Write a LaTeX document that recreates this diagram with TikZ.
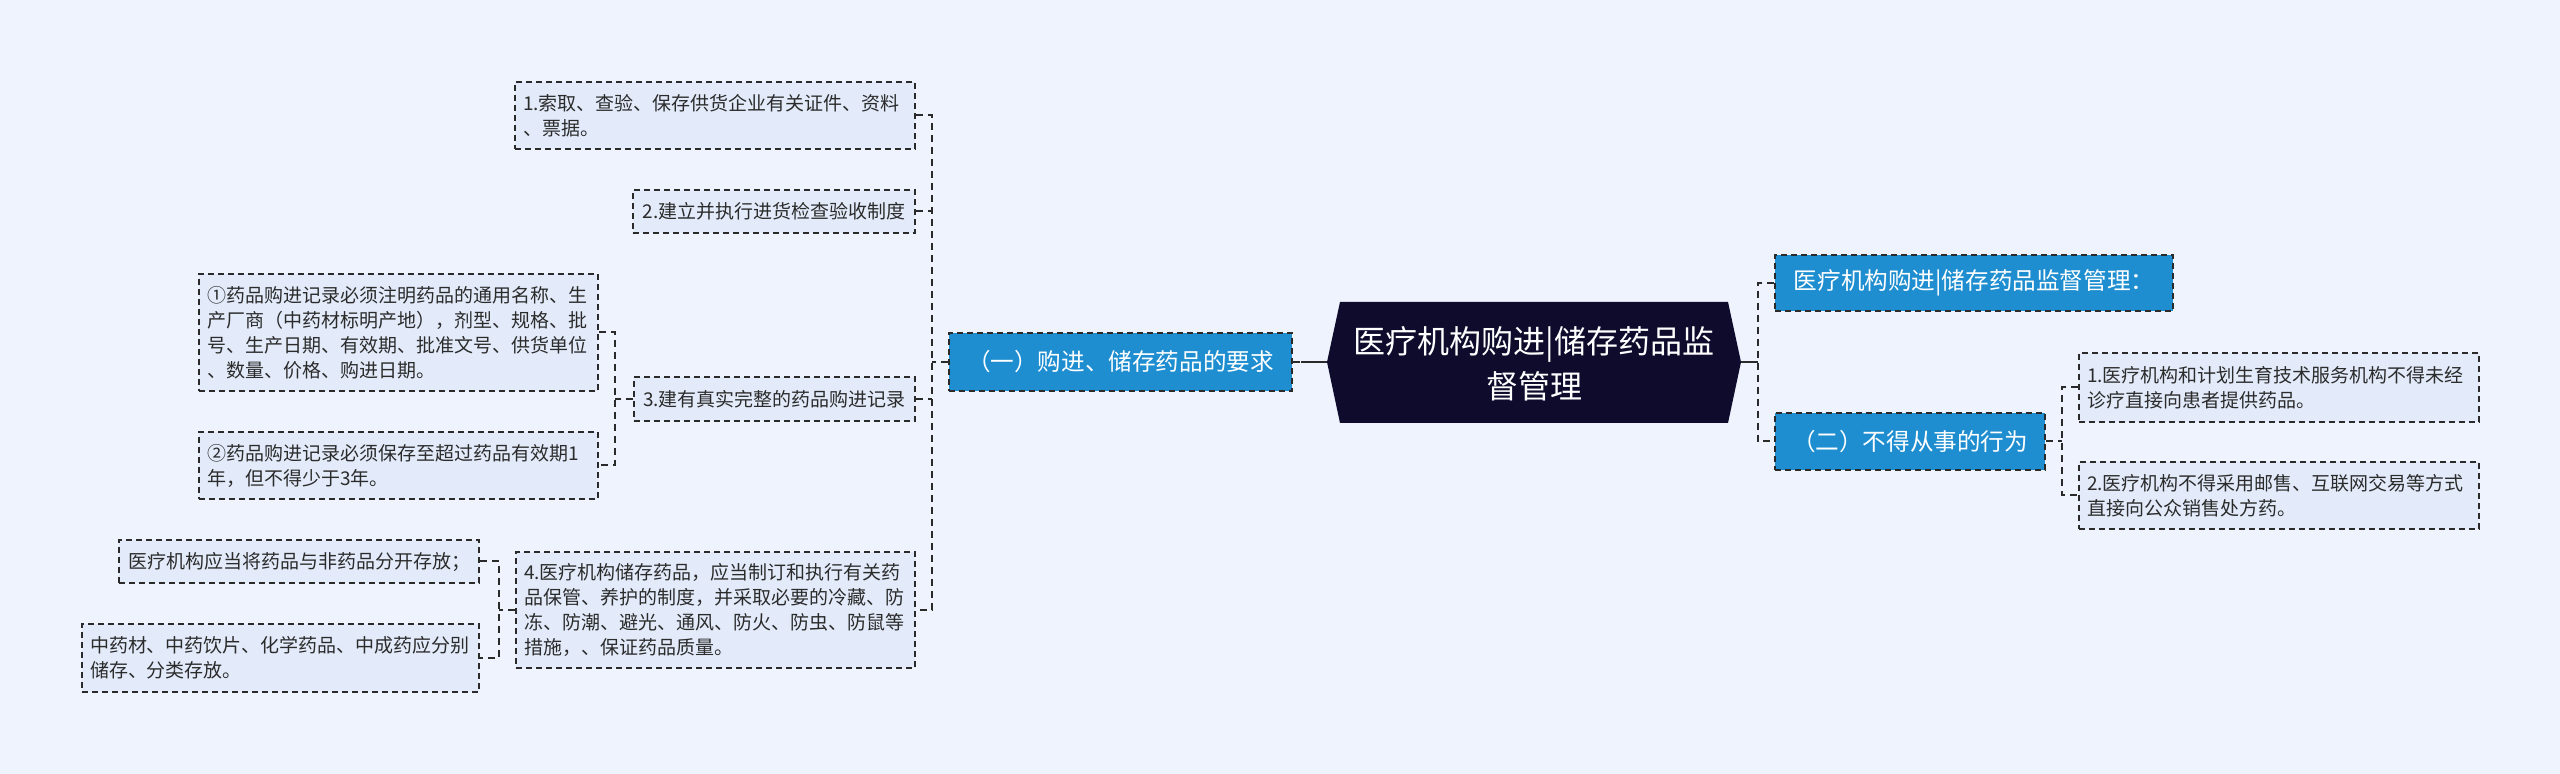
\documentclass[tikz,border=0pt]{standalone}
\usepackage{fontspec}
\setmainfont{Noto Sans CJK SC}
\definecolor{bgc}{HTML}{EEF3FD}
\definecolor{leaffill}{HTML}{E3EBFA}
\definecolor{linec}{HTML}{2A2A2A}
\definecolor{bluefill}{HTML}{1E8ED0}
\definecolor{rootfill}{HTML}{0E0B2C}
\definecolor{txtc}{HTML}{2B2B2B}
\begin{document}
\begin{tikzpicture}[x=0.5pt,y=-0.5pt,
  leaf/.style={draw=linec, fill=leaffill, line width=0.75pt, dash pattern=on 3pt off 2pt,
    inner xsep=4pt, inner ysep=0pt, text=txtc,
    font=\fontsize{9.5pt}{12.5pt}\selectfont, align=left},
  branch/.style={draw=linec, fill=bluefill, line width=0.75pt, dash pattern=on 3pt off 2pt,
    inner xsep=4pt, inner ysep=0pt, text=white, align=center,
    font=\fontsize{11.8pt}{14pt}\selectfont},
  conn/.style={draw=linec, line width=1pt, dash pattern=on 3.5pt off 2.5pt},
  rootconn/.style={draw=linec, line width=1pt}
]
\useasboundingbox (0,0) rectangle (2560,774);
\fill[bgc] (0,0) rectangle (2560,774);

% root
\fill[rootfill] (1327,362) -- (1340,302) -- (1728,302) -- (1741,362) -- (1728,423) -- (1340,423) -- cycle;
\node[text=white, align=center, inner sep=0pt, font=\fontsize{16pt}{22.5pt}\selectfont] (root) at (1534,364)
  {医疗机构购进|储存药品监\\督管理};
\coordinate (rootL) at (1327,362);
\coordinate (rootR) at (1741,362);

% branches
\node[branch, minimum width=171.5pt, minimum height=29pt] (B1) at (1120.5,362) {（一）购进、储存药品的要求};
\node[branch, minimum width=199pt, minimum height=28pt] (B2) at (1974,283) {医疗机构购进|储存药品监督管理：};
\node[branch, minimum width=135pt, minimum height=28.5pt] (B3) at (1910,441.5) {（二）不得从事的行为};

% left leaves
\node[leaf, text width=192pt, minimum height=33.5pt] (C1) at (715,115.5)
  {1.索取、查验、保存供货企业有关证件、资料\\、票据。};
\node[leaf, align=center, minimum width=141pt, minimum height=21.5pt, inner xsep=1pt] (C2) at (774,211.5)
  {2.建立并执行进货检查验收制度};
\node[leaf, align=center, minimum width=140.5pt, minimum height=22pt, inner xsep=1pt] (C3) at (774.5,399)
  {3.建有真实完整的药品购进记录};
\node[leaf, text width=191.5pt, minimum height=58.5pt] (C3a) at (398.5,332.5)
  {①药品购进记录必须注明药品的通用名称、生\\产厂商（中药材标明产地），剂型、规格、批\\号、生产日期、有效期、批准文号、供货单位\\、数量、价格、购进日期。};
\node[leaf, text width=191.5pt, minimum height=33.5pt] (C3b) at (398.5,465.5)
  {②药品购进记录必须保存至超过药品有效期1\\年，但不得少于3年。};
\node[leaf, text width=191.5pt, minimum height=58pt] (C4) at (715.5,610)
  {4.医疗机构储存药品，应当制订和执行有关药\\品保管、养护的制度，并采取必要的冷藏、防\\冻、防潮、避光、通风、防火、防虫、防鼠等\\措施，、保证药品质量。};
\node[leaf, align=center, minimum width=180pt, minimum height=21.5pt] (C4a) at (299,561.5)
  {医疗机构应当将药品与非药品分开存放；};
\node[leaf, text width=190.5pt, minimum height=34pt] (C4b) at (280.5,658)
  {中药材、中药饮片、化学药品、中成药应分别\\储存、分类存放。};

% right leaves
\node[leaf, text width=192pt, minimum height=34.5pt] (R1) at (2279,387.5)
  {1.医疗机构和计划生育技术服务机构不得未经\\诊疗直接向患者提供药品。};
\node[leaf, text width=192pt, minimum height=33.5pt] (R2) at (2279,495.5)
  {2.医疗机构不得采用邮售、互联网交易等方式\\直接向公众销售处方药。};

% junction coordinates
\coordinate (tL) at (932,362);
\coordinate (tC) at (1301,362);
\coordinate (tR) at (1758,362);
\coordinate (s3) at (615,399);
\coordinate (s4) at (499,610);
\coordinate (s2) at (2062,441.5);

% connectors
\draw[rootconn] (tC) -- (rootL);
\draw[conn] (B1.east) -- (tC);
\draw[rootconn] (rootR) -- (tR);
\draw[conn] (B2.west) -| (tR) |- (B3.west);

\draw[conn] (C1.east) -| (tL) |- (C4.east);
\draw[conn] (C2.east) -- (C2.east -| tL);
\draw[conn] (C3.east) -- (C3.east -| tL);
\draw[conn] (B1.west) -- (tL);

\draw[conn] (C3a.east) -| (s3) |- (C3b.east);
\draw[conn] (C3.west) -- (s3);

\draw[conn] (C4a.east) -| (s4) |- (C4b.east);
\draw[conn] (C4.west) -- (s4);

\draw[conn] (R1.west) -| (s2) |- (R2.west);
\draw[conn] (B3.east) -- (s2);
\end{tikzpicture}
\end{document}
